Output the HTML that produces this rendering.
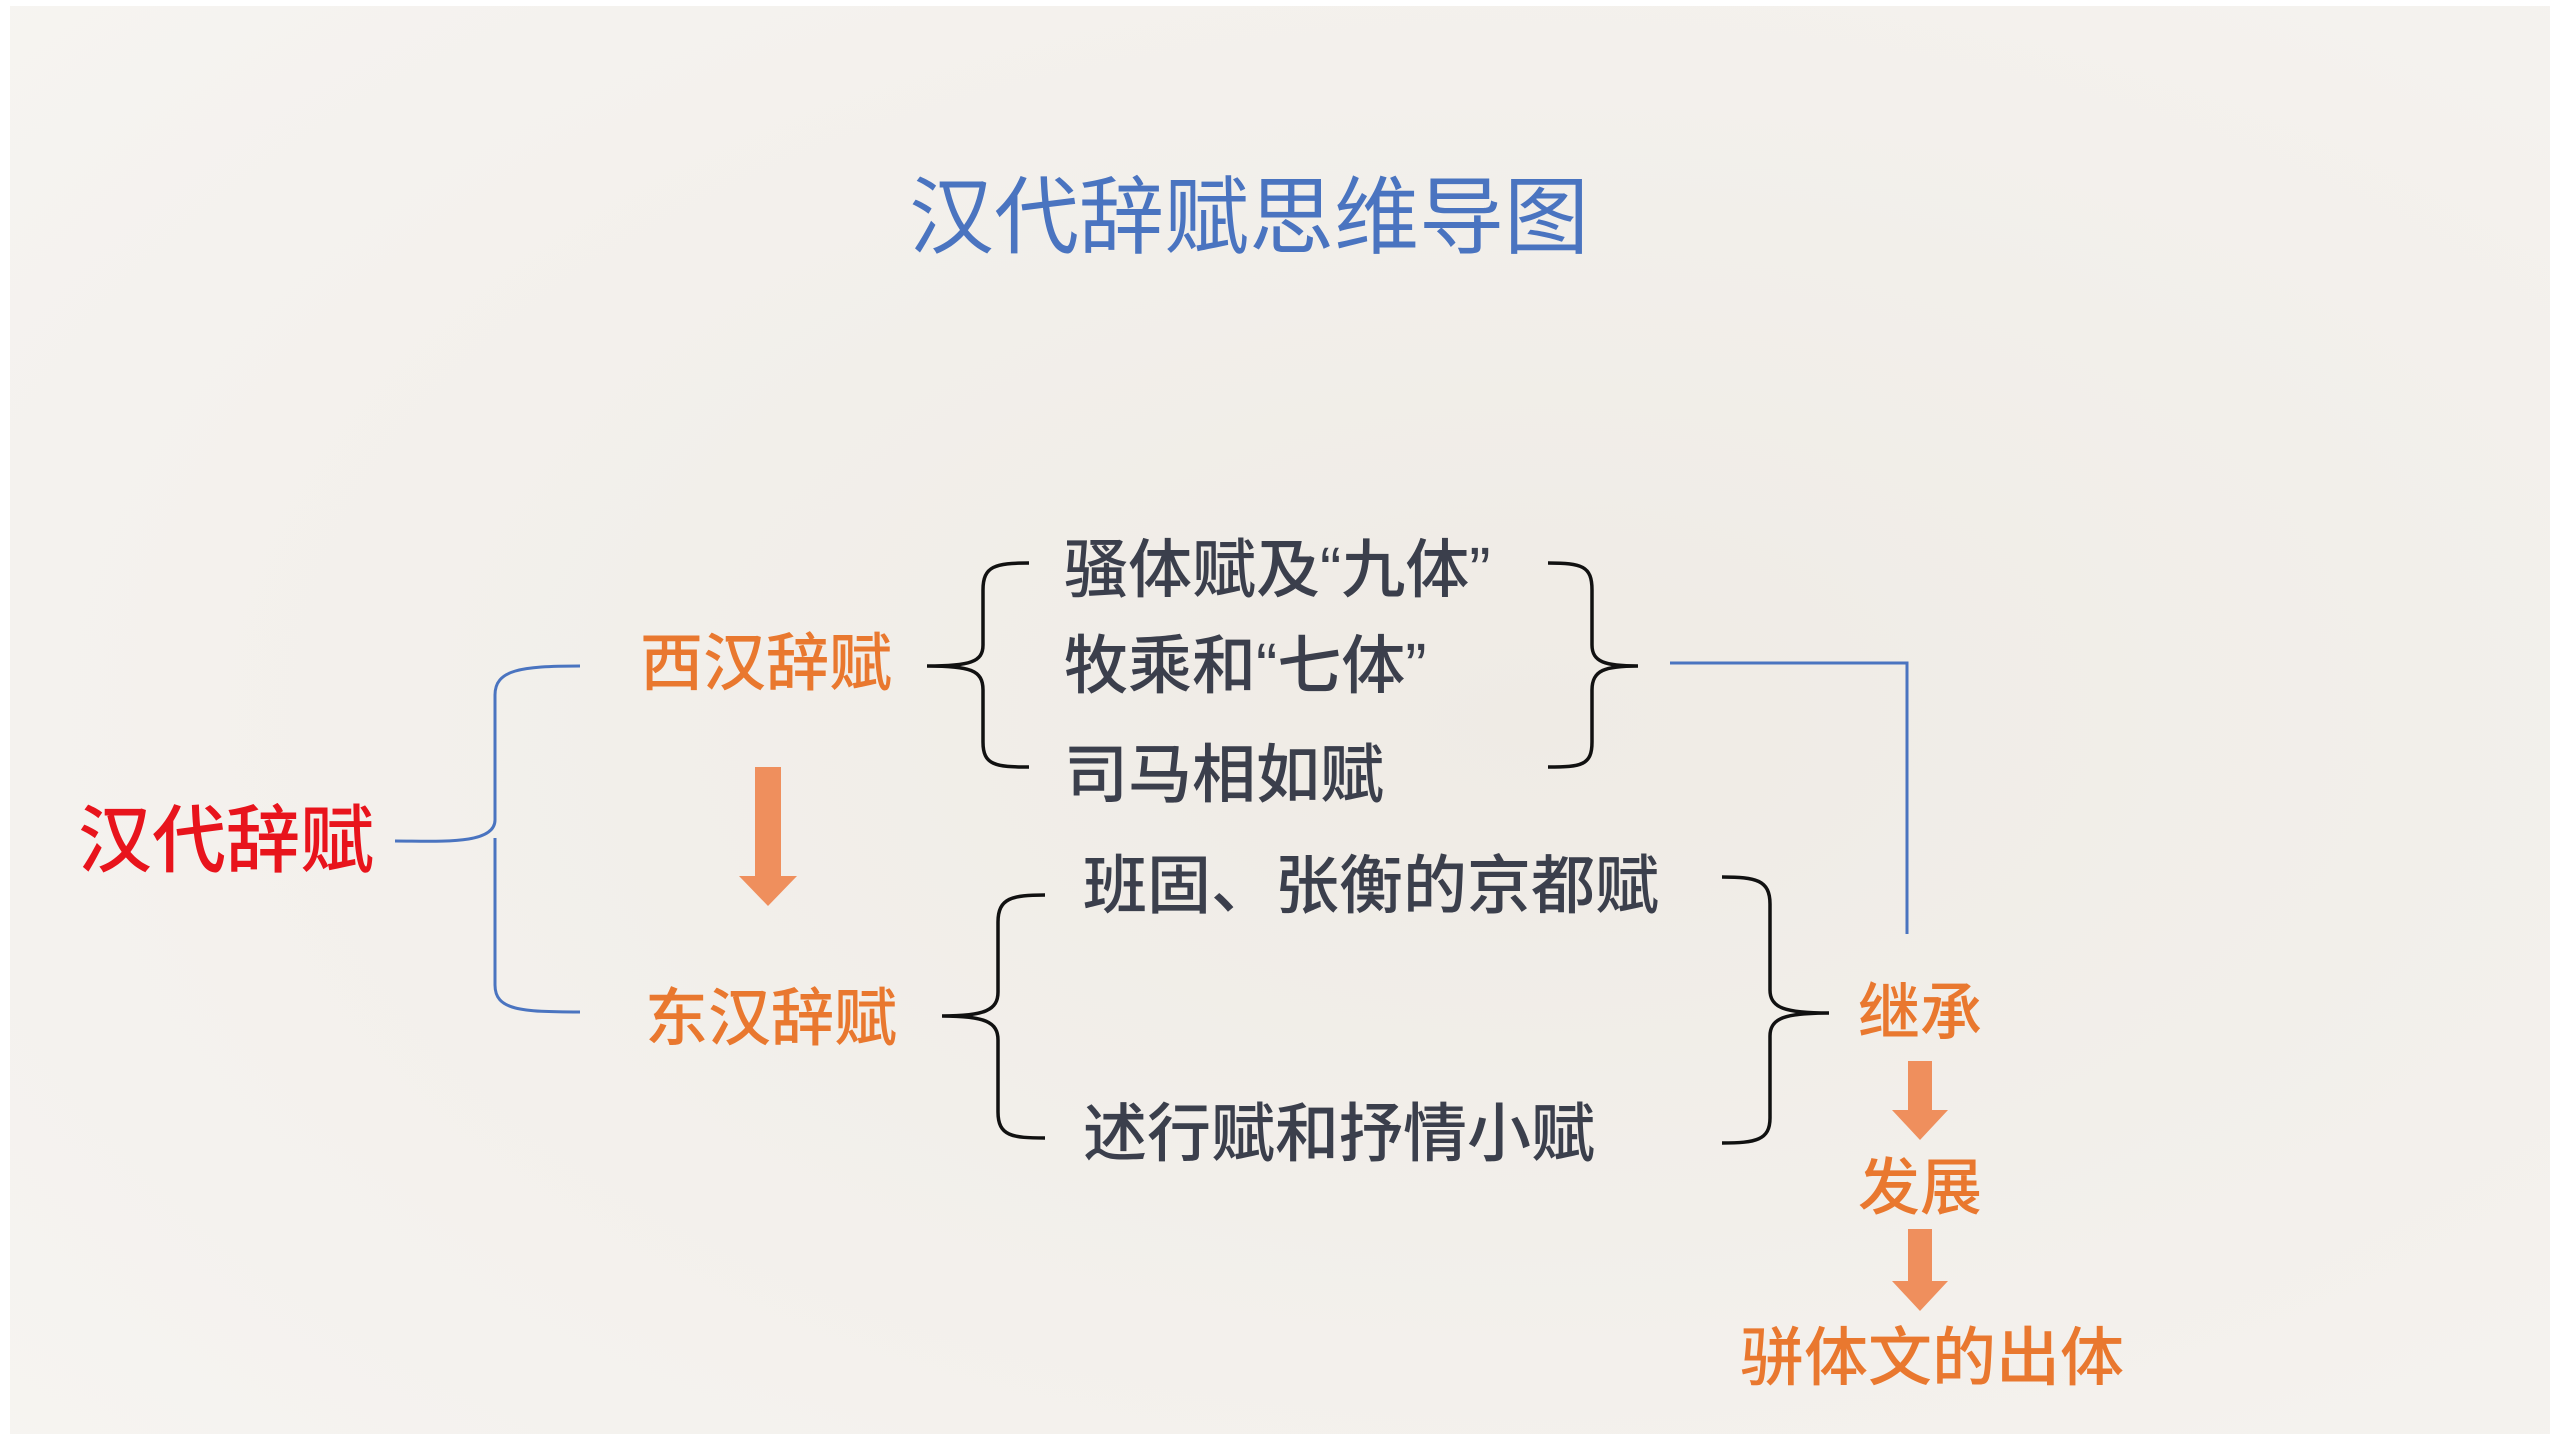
<!DOCTYPE html>
<html><head><meta charset="utf-8"><style>
html,body{margin:0;padding:0;background:#fff;}
svg{display:block}
text{font-family:"Liberation Sans","Noto Sans CJK SC",sans-serif;}
</style></head><body>
<svg width="2560" height="1440" viewBox="0 0 2560 1440" xmlns="http://www.w3.org/2000/svg">
<defs>
<radialGradient id="bg" cx="0.6" cy="0.5" r="0.8">
<stop offset="0" stop-color="#efebe5"/><stop offset="1" stop-color="#f6f4f1"/>
</radialGradient>
</defs>
<rect x="0" y="0" width="2560" height="1440" fill="#fff"/>
<rect x="10" y="6" width="2540" height="1428" fill="url(#bg)"/>
<text x="1249" y="247" font-size="85" fill="#4a74c0" text-anchor="middle">汉代辞赋思维导图</text>
<text x="78" y="866" font-size="74" fill="#e8141c" font-weight="500">汉代辞赋</text>
<path d="M395 841 C440 841,495 845,495 820 L495 695 C495 670,520 666,580 666 M495 862 L495 985 C495 1010,520 1012,580 1012 M495 838 L495 862" fill="none" stroke="#4a74c0" stroke-width="3"/>
<text x="640" y="685" font-size="63" fill="#e9782f" font-weight="500">西汉辞赋</text>
<text x="645" y="1040" font-size="63" fill="#e9782f" font-weight="500">东汉辞赋</text>
<polygon points="755,767 781,767 781,876 797,876 768,906 739,876 755,876" fill="#ef8f5d"/>
<polygon points="1908,1061 1932,1061 1932,1110 1948,1110 1920,1140 1892,1110 1908,1110" fill="#ef8f5d"/>
<polygon points="1908,1229 1932,1229 1932,1281 1948,1281 1920,1311 1892,1281 1908,1281" fill="#ef8f5d"/>
<path d="M1029 563 C995 563,983 566,983 590 L983 645 C983 662,970 666,927 666 C970 666,983 670,983 690 L983 742 C983 765,995 767,1029 767" fill="none" stroke="#111" stroke-width="3.5"/>
<text x="1064" y="592" font-size="64" fill="#3b3f4c" font-weight="500">骚体赋及“九体”</text>
<text x="1064" y="688" font-size="64" fill="#3b3f4c" font-weight="500">牧乘和“七体”</text>
<text x="1064" y="797" font-size="64" fill="#3b3f4c" font-weight="500">司马相如赋</text>
<path d="M1548 563 C1582 563,1592 566,1592 590 L1592 645 C1592 662,1605 666,1638 666 C1605 666,1592 670,1592 690 L1592 742 C1592 765,1582 767,1548 767" fill="none" stroke="#111" stroke-width="3.5"/>
<polyline points="1670,663 1907,663 1907,934" fill="none" stroke="#4a74c0" stroke-width="3"/>
<path d="M1045 895 C1012 895,998 898,998 922 L998 992 C998 1010,985 1016,942 1016 C985 1016,998 1022,998 1040 L998 1112 C998 1136,1012 1138,1045 1138" fill="none" stroke="#111" stroke-width="3.5"/>
<text x="1083" y="908" font-size="64" fill="#3b3f4c" font-weight="500">班固、张衡的京都赋</text>
<text x="1083" y="1156" font-size="64" fill="#3b3f4c" font-weight="500">述行赋和抒情小赋</text>
<path d="M1722 877 C1756 877,1770 880,1770 904 L1770 990 C1770 1008,1785 1013,1829 1013 C1785 1013,1770 1018,1770 1036 L1770 1118 C1770 1140,1756 1143,1722 1143" fill="none" stroke="#111" stroke-width="3.5"/>
<text x="1920" y="1034" font-size="62" fill="#e9782f" text-anchor="middle" font-weight="500">继承</text>
<text x="1920" y="1209" font-size="62" fill="#e9782f" text-anchor="middle" font-weight="500">发展</text>
<text x="1932" y="1380" font-size="64" fill="#e9782f" text-anchor="middle" font-weight="500">骈体文的出体</text>
</svg>
</body></html>
